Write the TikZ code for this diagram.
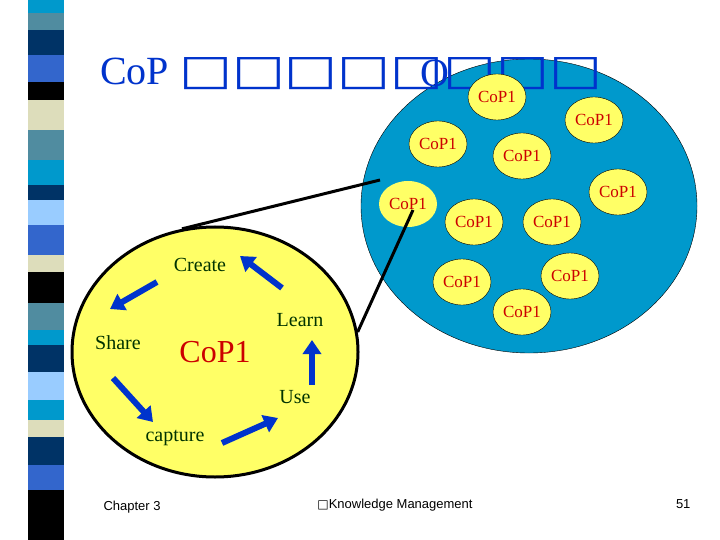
\documentclass[tikz,border=0pt]{standalone}
\usepackage{fontspec}
\setmainfont{Liberation Serif}
\newfontfamily\dejavu{DejaVu Sans}
\newfontfamily\arial{Liberation Sans}
\usetikzlibrary{arrows.meta,shapes.geometric}
\definecolor{cyanS}{RGB}{0,153,204}
\definecolor{steelS}{RGB}{80,140,160}
\definecolor{navyS}{RGB}{0,51,102}
\definecolor{royalS}{RGB}{51,102,204}
\definecolor{beigeS}{RGB}{221,221,187}
\definecolor{lightS}{RGB}{153,204,255}
\definecolor{titleblue}{RGB}{0,51,204}
\definecolor{bigblue}{RGB}{0,153,204}
\definecolor{yel}{RGB}{255,255,102}
\definecolor{cred}{RGB}{204,0,0}
\definecolor{dgreen}{RGB}{0,51,0}
\definecolor{arrblue}{RGB}{0,51,204}
\begin{document}
\begin{tikzpicture}[x=1pt,y=-1pt,
  cop/.style={ellipse,draw=black,fill=yel,minimum width=58pt,minimum height=46pt,inner sep=0pt,text=cred,font=\fontsize{17}{17}\selectfont},
  lbl/.style={text=dgreen,font=\fontsize{20}{20}\selectfont},
  cyc/.style={-{Triangle[length=14pt,width=18pt]},line width=6pt,draw=arrblue},
  foot/.style={font=\arial\fontsize{13}{13}\selectfont}]
\useasboundingbox (0,0) rectangle (720,540);
\fill[white] (0,0) rectangle (720,540);
% stripe
\foreach \a/\b/\c in {0/13/cyanS,13/30/steelS,30/55/navyS,55/82/royalS,82/100/black,100/130/beigeS,130/160/steelS,160/185/cyanS,185/200/navyS,200/225/lightS,225/255/royalS,255/272/beigeS,272/303/black,303/330/steelS,330/345/cyanS,345/372/navyS,372/400/lightS,400/420/cyanS,420/437/beigeS,437/465/navyS,465/490/royalS,490/540/black}
  \fill[\c] (28,\a) rectangle (64,\b);
% big blue circle
\node[ellipse,draw=black,fill=bigblue,minimum width=336pt,minimum height=294pt] (big) at (529,206) {};
% title
\node[anchor=base west,text=titleblue,inner sep=0pt,font=\fontsize{40}{40}\selectfont] (title) at (100,85) {CoP {\dejavu\scalebox{1.4}[1.05]{□□□□□□□□}}};
\node[anchor=base west,text=titleblue,inner sep=0pt,font=\fontsize{40}{40}\selectfont] (tO) at (420,87) {O};
\node[cop] (c1) at (497,97) {CoP1};
\node[cop] (c2) at (594,120) {CoP1};
\node[cop] (c3) at (438,144) {CoP1};
\node[cop] (c4) at (522,156) {CoP1};
\node[cop,draw=none] (c5) at (408,204) {CoP1};
\node[cop] (c6) at (618,192) {CoP1};
\node[cop] (c7) at (474,222) {CoP1};
\node[cop] (c8) at (552,222) {CoP1};
\node[cop] (c9) at (462,282) {CoP1};
\node[cop] (c10) at (570,276) {CoP1};
\node[cop] (c11) at (522,312) {CoP1};
% yellow circle
\node[ellipse,draw=black,line width=3pt,fill=yel,minimum width=286pt,minimum height=250pt] (small) at (215,352) {};
\coordinate (z1) at (380,180);
\coordinate (z2) at (413,210);
\draw[line width=3pt] (z1) -- (small.105);
\draw[line width=3pt] (z2) -- (small.8);
\node[lbl] (create) at (200,265) {Create};
\node[lbl] (learn) at (300,320) {Learn};
\node[lbl] (share) at (118,343) {Share};
\node[text=cred,font=\fontsize{32}{32}\selectfont] (core) at (215,352) {CoP1};
\node[lbl] (use) at (295,397) {Use};
\node[lbl] (capture) at (175,438) {capture};
\coordinate (a1) at (282,288); \coordinate (a2) at (240,256);
\coordinate (b1) at (157,282); \coordinate (b2) at (110,309);
\coordinate (d1) at (113,378); \coordinate (d2) at (153,422);
\coordinate (e1) at (222,443); \coordinate (e2) at (278,418);
\coordinate (f1) at (312,385); \coordinate (f2) at (312,340);
\draw[cyc] (a1) -- (a2);
\draw[cyc] (b1) -- (b2);
\draw[cyc] (d1) -- (d2);
\draw[cyc] (e1) -- (e2);
\draw[cyc] (f1) -- (f2);
% footer
\node[foot,anchor=base west] (ch) at (100,510) {Chapter 3};
\node[foot,anchor=base] (km) at (395,508) {{\dejavu\fontsize{12}{12}\selectfont □}Knowledge Management};
\node[foot,anchor=base east] (pg) at (694,508) {51};
\end{tikzpicture}
\end{document}
